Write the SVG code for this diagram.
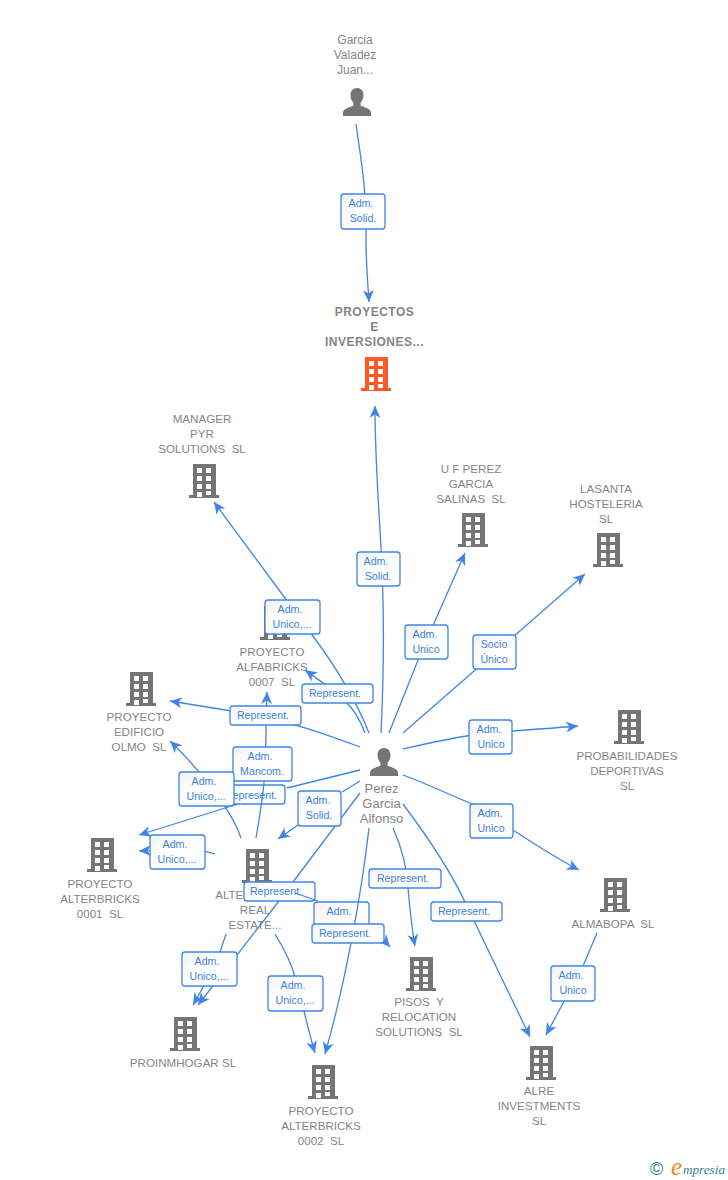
<svg xmlns="http://www.w3.org/2000/svg" width="728" height="1180" viewBox="0 0 728 1180">
<style>
text{font-family:"Liberation Sans",Arial,sans-serif;white-space:pre}
.n{font-size:11.6px;fill:#858585;text-anchor:middle}
.p{font-size:12px;fill:#858585;text-anchor:middle}
.q{font-size:13px;fill:#858585;text-anchor:middle}
.m{font-size:12px;font-weight:bold;letter-spacing:.5px;fill:#858585;text-anchor:middle}
.l{font-size:10.67px;fill:#3b7fe0;text-anchor:middle}
.b{fill:url(#g);stroke:#3f86e4;stroke-width:1.3}
.c{fill:none;stroke:#3f86e4;stroke-width:1.3;marker-end:url(#a)}
.s{fill:none;stroke:#3f86e4;stroke-width:1.3}
</style>
<defs>
<linearGradient id="g" x1="0" y1="0" x2="1" y2="1"><stop offset="0" stop-color="#f2f2f2"/><stop offset=".45" stop-color="#fff"/><stop offset="1" stop-color="#fff"/></linearGradient>
<marker id="a" markerUnits="userSpaceOnUse" markerWidth="14" markerHeight="13" refX="12" refY="6" orient="auto"><path d="M0,.5L12,6L0,11.500L3.500,6Z" fill="#3f86e4"/></marker>
<symbol id="bld" viewBox="0 0 32 34" width="32" height="34" overflow="visible">
<path fill="currentColor" d="M5,0H28V31H31V34H1V31H5Z"/>
<path fill="#fff" d="M9,4h5v5h-5zM18,4h5v5h-5zM9,12h5v5h-5zM18,12h5v5h-5zM9,20h5v5h-5zM18,20h5v5h-5zM9,28h5v5h-5zM18,27h5v4h-5z"/>
</symbol>
<symbol id="per" viewBox="0 0 28 28" width="28" height="28"><path fill="#757575" d="M14,0C18,0 20.500,3 20.500,7C20.500,10.500 19,13.500 17.500,15V17.500C21,19.500 28,20 28,25V28H0V25C0,20 7,19.500 10.500,17.500V15C9,13.500 7.500,10.500 7.500,7C7.500,3 10,0 14,0Z"/></symbol>
</defs>

<g id="n-alterreal" color="#757575"><use href="#bld" x="241" y="849"/><text class="n" x="255" y="899">ALTERBRICKS</text><text class="n" x="255" y="914">REAL</text><text class="n" x="255" y="929">ESTATE...</text></g>
<g id="n-alfabricks" color="#757575"><use href="#bld" x="259" y="606"/><text class="n" x="272" y="656">PROYECTO</text><text class="n" x="272" y="671">ALFABRICKS</text><text class="n" x="272" y="686">0007  SL</text></g>

<g id="labels-under">
<rect class="b" x="213" y="785" width="72" height="19" rx="3"/><text class="l" x="251" y="798.500">Represent.</text>
<rect class="b" x="244" y="882" width="71" height="19" rx="3"/><text class="l" x="276" y="895">Represent.</text>
<rect class="b" x="314" y="902" width="55" height="34" rx="3"/><text class="l" x="339" y="915">Adm.</text>
</g>

<g id="connectors">
<path class="c" d="M356,124C361,160 367,190 366,240C366,265 368,285 369,302"/>
<path class="c" d="M381,733C385,650 384,590 380,530C377,480 375,450 375,406"/>
<path class="c" d="M369,733C358,705 340,672 310,632L214,502"/>
<path class="c" d="M365,733C355,705 340,695 305,670"/>
<path class="c" d="M360,747C320,732 290,722 250,714C220,709 195,705 170,701"/>
<path class="c" d="M256,838C260,815 264,790 265,770C266,745 266,720 267,692"/>
<path class="c" d="M241,838C236,822 228,812 222,802C205,778 190,760 170,741"/>
<path class="c" d="M360,770L287,788M238,804L139,835"/>
<path class="c" d="M215,854C195,847 170,850 139,851"/>
<path class="c" d="M360,781L342,792M298,825L278,839"/>
<path class="c" d="M360,793L293,882M279,901L198,1005"/>
<path class="c" d="M226,934L220,952C210,975 202,990 193,1005"/>
<path class="c" d="M275,934C285,950 292,965 296,980C303,1005 308,1030 315,1053"/>
<path class="c" d="M369,828C362,890 345,985 325,1054"/>
<path class="s" d="M295,893L318,901"/>
<path class="c" d="M375,930L390,947"/>
<path class="c" d="M393,828C402,848 407,868 408,888C410,910 412,930 415,946"/>
<path class="c" d="M403,804C430,840 450,870 465,902L530,1037"/>
<path class="c" d="M597,933L583,966L546,1035"/>
<path class="c" d="M403,775C430,785 450,795 470,803C500,820 540,850 579,870"/>
<path class="c" d="M403,749C425,744 450,738 480,734C515,730 545,729 578,726"/>
<path class="c" d="M403,733L585,574"/>
<path class="c" d="M389,733C400,705 410,680 420,655L465,553"/>
</g>

<g id="labels-over">
<rect class="b" x="341" y="194" width="44" height="35" rx="3"/><text class="l" x="361" y="207">Adm.</text><text class="l" x="363" y="222">Solid.</text>
<rect class="b" x="357" y="552" width="43" height="34" rx="3"/><text class="l" x="376" y="565">Adm.</text><text class="l" x="378" y="580">Solid.</text>
<rect class="b" x="265" y="600" width="55" height="34" rx="3"/><text class="l" x="290" y="613">Adm.</text><text class="l" x="292" y="628">Unico,...</text>
<rect class="b" x="405" y="625" width="43" height="34" rx="3"/><text class="l" x="425" y="638">Adm.</text><text class="l" x="426" y="653">Unico</text>
<rect class="b" x="473" y="635" width="43" height="34" rx="3"/><text class="l" x="494" y="648">Socio</text><text class="l" x="494" y="663">Único</text>
<rect class="b" x="302" y="684" width="71" height="19" rx="3"/><text class="l" x="335" y="697">Represent.</text>
<rect class="b" x="230" y="706" width="71" height="19" rx="3"/><text class="l" x="263" y="719">Represent.</text>
<rect class="b" x="469" y="720" width="43" height="34" rx="3"/><text class="l" x="489" y="733">Adm.</text><text class="l" x="491" y="748">Unico</text>
<rect class="b" x="233" y="747" width="59" height="34" rx="3"/><text class="l" x="260" y="760">Adm.</text><text class="l" x="262" y="775">Mancom.</text>
<rect class="b" x="179" y="772" width="55" height="34" rx="3"/><text class="l" x="204" y="785">Adm.</text><text class="l" x="206" y="800">Unico,...</text>
<rect class="b" x="298" y="791" width="43" height="35" rx="3"/><text class="l" x="318" y="804">Adm.</text><text class="l" x="319" y="819">Solid.</text>
<rect class="b" x="470" y="804" width="43" height="34" rx="3"/><text class="l" x="490" y="817">Adm.</text><text class="l" x="491" y="832">Unico</text>
<rect class="b" x="150" y="835" width="55" height="34" rx="3"/><text class="l" x="175" y="848">Adm.</text><text class="l" x="177" y="863">Unico,...</text>
<rect class="b" x="369" y="869" width="72" height="19" rx="3"/><text class="l" x="403" y="882">Represent.</text>
<rect class="b" x="431" y="902" width="71" height="19" rx="3"/><text class="l" x="464" y="915">Represent.</text>
<rect class="b" x="312" y="924" width="72" height="19" rx="3"/><text class="l" x="345" y="937">Represent.</text>
<rect class="b" x="182" y="952" width="55" height="34" rx="3"/><text class="l" x="207" y="965">Adm.</text><text class="l" x="209" y="980">Unico,...</text>
<rect class="b" x="551" y="966" width="44" height="35" rx="3"/><text class="l" x="571" y="979">Adm.</text><text class="l" x="573" y="994">Unico</text>
<rect class="b" x="268" y="976" width="55" height="35" rx="3"/><text class="l" x="293" y="989">Adm.</text><text class="l" x="295" y="1004">Unico,...</text>
</g>

<g id="n-garcia"><use href="#per" x="343" y="88"/><text class="p" x="355" y="44">Garcia</text><text class="p" x="355" y="59">Valadez</text><text class="p" x="355" y="74">Juan...</text></g>
<g id="n-perez"><use href="#per" x="370" y="748"/><text class="q" x="381.500" y="793">Perez</text><text class="q" x="381.500" y="808">Garcia</text><text class="q" x="381.500" y="823">Alfonso</text></g>
<g id="n-proyectos" color="#ff5a26"><use href="#bld" x="360" y="357"/><text class="m" x="374.500" y="316">PROYECTOS</text><text class="m" x="374.500" y="331">E</text><text class="m" x="374.500" y="346">INVERSIONES...</text></g>
<g id="n-manager" color="#757575"><use href="#bld" x="188" y="464"/><text class="n" x="202" y="423">MANAGER</text><text class="n" x="202" y="438">PYR</text><text class="n" x="202" y="453">SOLUTIONS  SL</text></g>
<g id="n-ufperez" color="#757575"><use href="#bld" x="457" y="513"/><text class="n" x="471" y="473">U F PEREZ</text><text class="n" x="471" y="488">GARCIA</text><text class="n" x="471" y="503">SALINAS  SL</text></g>
<g id="n-lasanta" color="#757575"><use href="#bld" x="592" y="533"/><text class="n" x="606" y="493">LASANTA</text><text class="n" x="606" y="508">HOSTELERIA</text><text class="n" x="606" y="523">SL</text></g>
<g id="n-edificio" color="#757575"><use href="#bld" x="125" y="672"/><text class="n" x="139" y="721">PROYECTO</text><text class="n" x="139" y="736">EDIFICIO</text><text class="n" x="139" y="751">OLMO  SL</text></g>
<g id="n-probabilidades" color="#757575"><use href="#bld" x="613" y="710"/><text class="n" x="627" y="760">PROBABILIDADES</text><text class="n" x="627" y="775">DEPORTIVAS</text><text class="n" x="627" y="790">SL</text></g>
<g id="n-alter0001" color="#757575"><use href="#bld" x="86" y="838"/><text class="n" x="100" y="888">PROYECTO</text><text class="n" x="100" y="903">ALTERBRICKS</text><text class="n" x="100" y="918">0001  SL</text></g>
<g id="n-almabopa" color="#757575"><use href="#bld" x="599" y="878"/><text class="n" x="613" y="928">ALMABOPA  SL</text></g>
<g id="n-pisos" color="#757575"><use href="#bld" x="405" y="957"/><text class="n" x="419" y="1006">PISOS  Y</text><text class="n" x="419" y="1021">RELOCATION</text><text class="n" x="419" y="1036">SOLUTIONS  SL</text></g>
<g id="n-proinm" color="#757575"><use href="#bld" x="169" y="1017"/><text class="n" x="183" y="1067">PROINMHOGAR SL</text></g>
<g id="n-alre" color="#757575"><use href="#bld" x="525" y="1046"/><text class="n" x="539" y="1095">ALRE</text><text class="n" x="539" y="1110">INVESTMENTS</text><text class="n" x="539" y="1125">SL</text></g>
<g id="n-alter0002" color="#757575"><use href="#bld" x="307" y="1065"/><text class="n" x="321" y="1115">PROYECTO</text><text class="n" x="321" y="1130">ALTERBRICKS</text><text class="n" x="321" y="1145">0002  SL</text></g>

<g id="logo"><text x="650" y="1175" style="font-size:18px;fill:#3c7a94">©</text><text x="671" y="1175" style="font-family:'Liberation Serif',serif;font-style:italic;font-size:25px;fill:#f08a24">e</text><text x="683" y="1174" style="font-family:'Liberation Serif',serif;font-style:italic;font-size:13.200px;fill:#3c7a94">mpresia</text></g>
</svg>
